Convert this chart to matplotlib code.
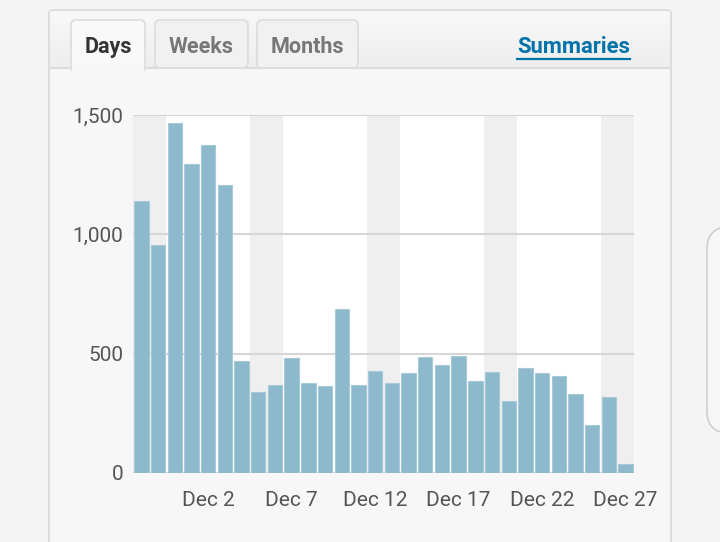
import numpy as np
import pandas as pd
import matplotlib
matplotlib.use("Agg")
import matplotlib.pyplot as plt
from matplotlib.patches import Rectangle, FancyBboxPatch

plt.rcParams["font.family"] = ["Roboto", "DejaVu Sans"]

# ---- data: daily views, Nov 28 .. Dec 27
dates = pd.date_range("2015-11-28", "2015-12-27", freq="D")
views = [1140, 955, 1465, 1295, 1373, 1207, 469, 341, 369, 480,
         378, 366, 689, 368, 427, 378, 418, 487, 452, 490,
         385, 424, 302, 439, 418, 408, 331, 201, 317, 38]
tick_days = ["Dec 2", "Dec 7", "Dec 12", "Dec 17", "Dec 22", "Dec 27"]
y_ticks = [0, 500, 1000, 1500]
tabs = ["Days", "Weeks", "Months"]

W, H = 720, 542
fig = plt.figure(figsize=(W / 100, H / 100), dpi=100)
fig.patch.set_facecolor("#f4f4f4")

# ---- page chrome, drawn in pixel coordinates
bg = fig.add_axes([0, 0, 1, 1], zorder=0)
bg.set_xlim(0, W)
bg.set_ylim(H, 0)
bg.axis("off")

# card body
bg.add_patch(FancyBboxPatch((49, 10), 622, 560, boxstyle="round,pad=0,rounding_size=4",
                            fc="#f7f7f7", ec="#d8d8d8", lw=1.2))
# tab bar with light gradient
grad = np.linspace(0, 1, 64).reshape(-1, 1)
bg.imshow(grad, extent=(50, 670, 68, 11), cmap=matplotlib.colors.LinearSegmentedColormap.from_list(
    "g", ["#f8f8f8", "#eeeeee"]), aspect="auto", zorder=1)
bg.plot([49, 671], [68, 68], color="#dcdcdc", lw=1.5, zorder=2)

# tabs
tab_boxes = [(71, 145), (155, 248), (257, 358)]
for (x0, x1), name in zip(tab_boxes, tabs):
    active = name == "Days"
    bg.add_patch(FancyBboxPatch((x0, 20), x1 - x0, 52 if active else 48,
                                boxstyle="round,pad=0,rounding_size=5",
                                fc="#f9f9f9" if active else "#f1f1f1",
                                ec="#dcdcdc", lw=1.2, zorder=3))
    bg.text((x0 + x1) / 2, 47, name, ha="center", va="center", fontsize=15.5,
            fontweight="bold", color="#333333" if active else "#777777", zorder=4)
bg.add_patch(Rectangle((72, 66), 72, 8, fc="#f7f7f7", ec="none", zorder=3.5))

bg.text(573.5, 47, "Summaries", ha="center", va="center", fontsize=15.8,
        fontweight="bold", color="#0073aa", zorder=4)
bg.plot([517, 630], [58.5, 58.5], color="#0073aa", lw=1.6, zorder=4)

# neighbouring card peeking in on the right
bg.add_patch(FancyBboxPatch((707, 227), 60, 206, boxstyle="round,pad=0,rounding_size=22",
                            fc="#f6f6f6", ec="#cfcfcf", lw=1.2, zorder=2))

# ---- chart
ax = fig.add_axes([133 / W, (H - 473) / H, (634 - 133) / W, (473 - 115) / H], zorder=1)
ax.set_facecolor("white")
x = np.arange(len(views))

# weekend bands, contiguous days merged into one span
weekend = [i for i, d in enumerate(dates) if d.weekday() >= 5]
start = None
for k, i in enumerate(weekend):
    if start is None:
        start = i
    if k == len(weekend) - 1 or weekend[k + 1] != i + 1:
        ax.axvspan(start - 0.5, i + 0.5, color="#efefef", lw=0, zorder=0)
        start = None

for yv in y_ticks:
    ax.axhline(yv, color="#d6d6d6", lw=1.5, zorder=1)

ax.bar(x, views, width=0.86, color="#8cb9cc", edgecolor="#a8cad8", lw=0.8, zorder=2)

ax.set_xlim(-0.5, len(views) - 0.5)
ax.set_ylim(0, 1500)
ax.set_yticks(y_ticks)
ax.set_yticklabels([f"{v:,}" for v in y_ticks])
tick_pos = [i for i, d in enumerate(dates) if d.strftime("%b %-d") in tick_days]
ax.set_xticks(tick_pos)
ax.set_xticklabels(tick_days)
ax.tick_params(axis="both", length=0, labelsize=15, labelcolor="#555555")
ax.tick_params(axis="y", pad=7)
ax.tick_params(axis="x", pad=13)
for s in ax.spines.values():
    s.set_visible(False)

fig.savefig("out.png", dpi=100, facecolor=fig.get_facecolor())
